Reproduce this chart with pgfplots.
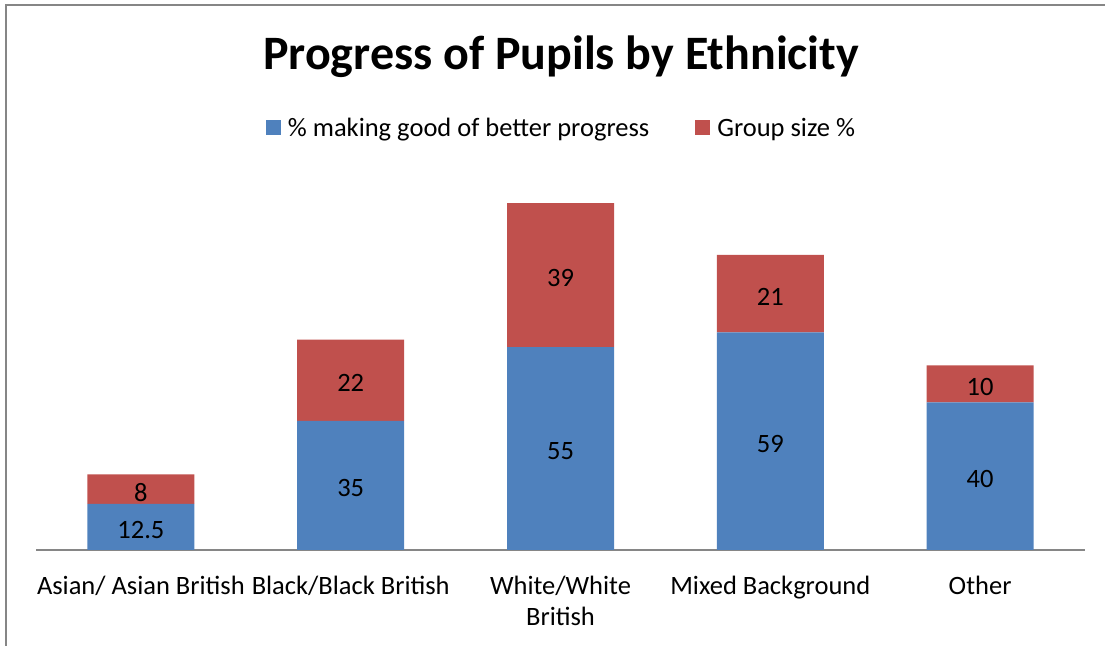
\documentclass[border=0pt]{standalone}
\usepackage{pgfplots}
\pgfplotsset{compat=1.18}
\usepackage{pgfplotstable}
\usepackage{fontspec}
\setmainfont{Carlito}
\definecolor{xblue}{HTML}{4F81BD}
\definecolor{xred}{HTML}{C0504D}
\definecolor{xgray}{HTML}{868686}

\pgfplotstableread{
x blue red
0 12.5 8
1 35 22
2 55 39
3 59 21
4 40 10
}\data

\begin{document}
\begin{tikzpicture}
\useasboundingbox (0,0) rectangle (1105bp,646bp);
\draw[xgray, line width=1.5bp] (6bp,-5bp) -- (6bp,641bp) -- (1110bp,641bp);
\node[font=\fontsize{48bp}{56bp}\selectfont\bfseries, anchor=base, inner sep=0pt] at (561bp,576bp) {Progress of Pupils by Ethnicity};
\begin{axis}[
  at={(36bp,96bp)}, anchor=south west,
  scale only axis, width=1049bp, height=369bp,
  xmin=-0.5, xmax=4.5, ymin=0, ymax=100,
  ybar stacked, bar width=107bp,
  axis x line=bottom, axis y line=none,
  x axis line style={-, draw=xgray, line width=1.2bp},
  xtick={0,1,2,3,4},
  xticklabels={{\strut Asian/ Asian British},{\strut Black/Black British},{\strut White/White\\British},{\strut Mixed Background},{\strut Other}},
  major tick length=0pt,
  xticklabel style={align=center, anchor=north, inner sep=0pt, yshift=-23bp, font=\fontsize{26.5bp}{31bp}\selectfont},
  ytick=\empty,
  /pgf/number format/assume math mode=true,
  point meta=explicit,
  nodes near coords,
  every node near coord/.append style={font=\fontsize{26.5bp}{30bp}\selectfont, anchor=center, yshift=-3bp},
  legend columns=2,
  legend image code/.code={\fill[#1] (0bp,-7.5bp) rectangle (15bp,7.5bp);},
  legend style={at={(0.500,1.144)}, anchor=center, draw=none, fill=none,
    font=\fontsize{26.5bp}{30bp}\selectfont,
    nodes={inner xsep=0pt, inner ysep=2bp},
    /tikz/every odd column/.append style={column sep=7bp},
    /tikz/every even column/.append style={column sep=46bp}},
]
\addplot[fill=xblue, draw=none] table[x=x, y=blue, meta=blue] {\data};
\addlegendentry{\% making good of better progress}
\addplot[fill=xred, draw=none] table[x=x, y=red, meta=red] {\data};
\addlegendentry{Group size \%}
\end{axis}
\end{tikzpicture}
\end{document}
